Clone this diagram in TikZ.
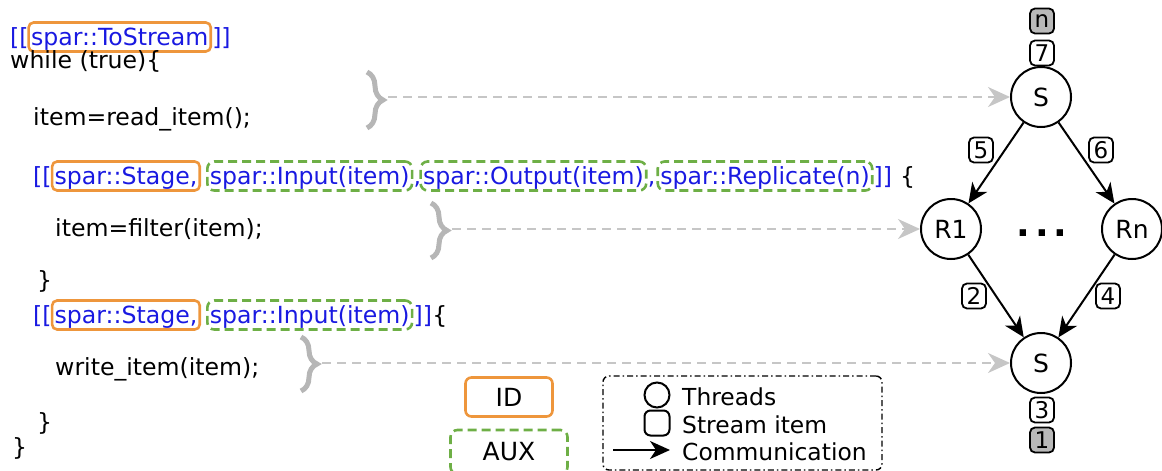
\documentclass[tikz,border=0pt]{standalone}
\usepackage{fontspec}
\setmainfont{DejaVu Sans}
\usetikzlibrary{arrows.meta,decorations.pathreplacing}
\definecolor{sparblue}{RGB}{25,25,225}
\definecolor{idorange}{RGB}{238,150,60}
\definecolor{auxgreen}{RGB}{110,175,70}
\definecolor{linkgray}{RGB}{198,198,198}
\begin{document}
\begin{tikzpicture}[x=1pt,y=-1pt,
 every node/.style={font=\fontsize{23.6}{28}\selectfont},
 code/.style={inner sep=0pt, anchor=base west},
 kw/.style={code, text=sparblue},
 idbox/.style={kw, draw=idorange, line width=2.6pt, rounded corners=5pt, inner xsep=2.5pt, inner ysep=3.5pt, text height=19pt, text depth=3pt},
 auxbox/.style={kw, draw=auxgreen, line width=2.6pt, dash pattern=on 9pt off 5pt, rounded corners=7pt, inner xsep=2.5pt, inner ysep=3.5pt, text height=19pt, text depth=3pt},
 thread/.style={circle, draw, line width=2pt, minimum size=60pt, inner sep=0pt, font=\fontsize{25}{28}\selectfont},
 tag/.style={draw, rounded corners=5pt, line width=1.8pt, minimum width=24pt, minimum height=25pt, inner sep=0pt, font=\fontsize{23}{26}\selectfont},
 lasttag/.style={tag, fill=gray!55},
 comm/.style={line width=2pt, -{Stealth[length=20pt,width=18pt,inset=6pt]}},
 link/.style={linkgray, line width=2.2pt, dash pattern=on 9pt off 6pt, -{Stealth[length=22pt,width=20pt,inset=7pt]}},
 bracemark/.style={linkgray!92!black, line width=5pt, decorate, decoration={brace, amplitude=16pt, aspect=0.5}},
 legtext/.style={anchor=west, inner sep=0pt, font=\fontsize{23.4}{28}\selectfont}
]
\useasboundingbox (0,0) rectangle (1162,471);

% ---- code, line 1
\node[kw] (a0) at (10,45) {[[};
\node[idbox] (a1) at ([xshift=-1.5pt]a0.base east) {spar::ToStream};
\node[kw] (a2) at (a1.base east) {]]};
\node[code] (w) at (10,68) {while (true)\{};
\node[code] (rd) at (33,125) {item=read\_item();};

% ---- stage 1
\node[kw] (c0) at (33,184) {[[};
\node[idbox] (c1) at ([xshift=-1pt]c0.base east) {spar::Stage,};
\node[auxbox] (c2) at ([xshift=5pt]c1.base east) {spar::Input(item)};
\node[kw] (c3) at (c2.base east) {,\ };
\node[auxbox] (c4) at ([xshift=-2pt]c3.base east) {spar::Output(item)};
\node[kw] (c5) at (c4.base east) {,};
\node[auxbox] (c6) at ([xshift=1pt]c5.base east) {spar::Replicate(n)};
\node[kw] (c7) at (c6.base east) {]]};
\node[code] (c8) at (c7.base east) {\ \{};
\node[code] (flt) at (55,236) {item=filter(item);};
\node[code] (cl1) at (37,288) {\}};

% ---- stage 2
\node[kw] (d0) at (33,323) {[[};
\node[idbox] (d1) at ([xshift=-1pt]d0.base east) {spar::Stage,};
\node[auxbox] (d2) at ([xshift=5pt]d1.base east) {spar::Input(item)};
\node[kw] (d3) at (d2.base east) {]]};
\node[code] (d4) at (d3.base east) {\{};
\node[code] (wr) at (55,375) {write\_item(item);};
\node[code] (cl2) at (37,430) {\}};
\node[code] (cl3) at (12,455) {\}};

% ---- braces
\draw[bracemark] (367,72) -- (367,128);
\draw[bracemark] (431,203) -- (431,258);
\draw[bracemark] (301,337) -- (301,391);
\coordinate (b1) at (388,97);
\coordinate (b2) at (452,229);
\coordinate (b3) at (322,363);

% ---- graph
\node[thread] (S1) at (1041,97) {S};
\node[thread] (R1) at (951,229) {R1};
\node[thread] (Rn) at (1132,229) {Rn};
\node[thread] (S2) at (1041,363) {S};
\node[font=\bfseries\fontsize{36}{40}\selectfont] (dots) at (1042,233) {.\hspace{5pt}.\hspace{5pt}.};

\draw[comm] (S1) -- (R1);
\draw[comm] (S1) -- (Rn);
\draw[comm] (R1) -- (S2);
\draw[comm] (Rn) -- (S2);

\draw[link] (b1) -- (S1);
\draw[link] (b2) -- (R1);
\draw[link] (b3) -- (S2);

\node[lasttag] (tn) at (1042,21) {n};
\node[tag] (t7) at (1042,53) {7};
\node[tag] (t5) at (981,150) {5};
\node[tag] (t6) at (1101,150) {6};
\node[tag] (t2) at (974,296) {2};
\node[tag] (t4) at (1108,296) {4};
\node[tag] (t3) at (1042,410) {3};
\node[lasttag] (t1) at (1042,440) {1};

% ---- legend
\node[draw=idorange, line width=2.6pt, rounded corners=6pt, minimum width=87pt, minimum height=39pt, font=\fontsize{25}{28}\selectfont] (id) at (509,397) {ID};
\node[draw=auxgreen, line width=2.6pt, dash pattern=on 9pt off 5pt, rounded corners=7pt, minimum width=117pt, minimum height=44pt, font=\fontsize{25}{28}\selectfont] (aux) at (509,452) {AUX};
\node[draw, line width=1.4pt, dash pattern=on 6pt off 3pt on 1.5pt off 3pt, rounded corners=6pt, minimum width=279pt, minimum height=94pt] (leg) at (742.5,423) {};
\node[circle, draw, line width=2pt, minimum size=25pt, inner sep=0pt] (lc) at (657,395) {};
\node[draw, line width=2pt, rounded corners=6pt, minimum size=25pt, inner sep=0pt] (ls) at (657,423) {};
\coordinate (la1) at (613,450);
\coordinate (la2) at (670,450);
\draw[comm] (la1) -- (la2);
\node[legtext] (lt1) at (682,397) {Threads};
\node[legtext] (lt2) at (682,425) {Stream item};
\node[legtext] (lt3) at (682,452) {Communication};
\end{tikzpicture}
\end{document}
